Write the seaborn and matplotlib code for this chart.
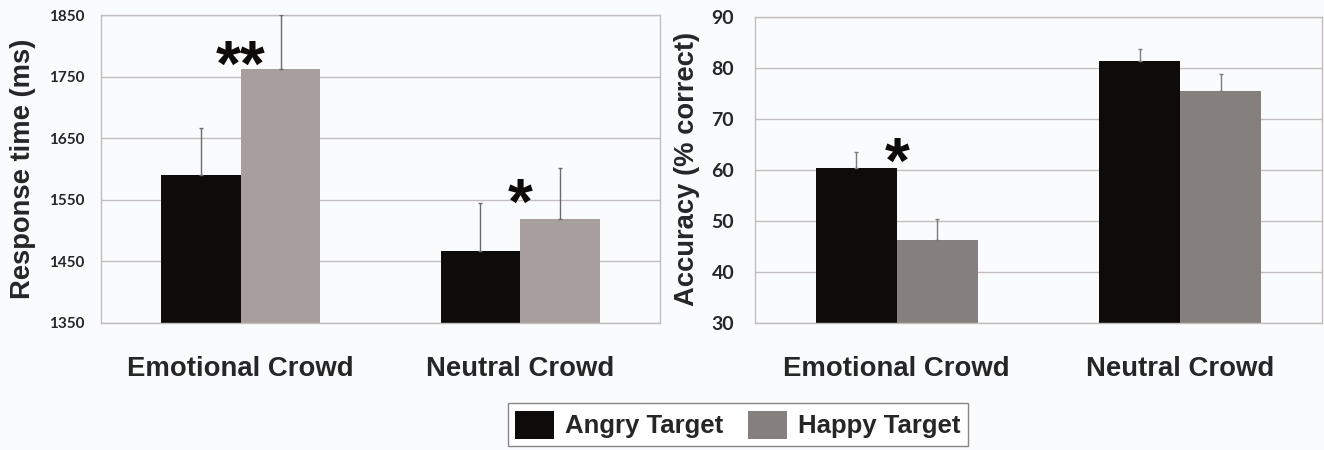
import pandas as pd
import numpy as np
import seaborn as sns
import matplotlib.pyplot as plt

# valores
crowds = ['Emotional Crowd', 'Neutral Crowd']
targets = ['Angry Target', 'Happy Target']

rt_angry = [1590, 1467]
rt_happy = [1763, 1519]
rt_angry_err = [77, 77]
rt_happy_err = [87, 83]

acc_angry = [60.4, 81.3]
acc_happy = [46.3, 75.4]
acc_angry_err = [3.1, 2.4]
acc_happy_err = [4.0, 3.4]

bg = '#fafbfd'
grid_c = '#c2bebd'
black = '#0e0c0b'
gray_left = '#a69f9e'
gray_right = '#85807e'

sns.set_style("white")
plt.rcParams['font.family'] = ['Liberation Sans', 'DejaVu Sans']

W, H = 1324, 450
fig = plt.figure(figsize=(W / 100, H / 100), dpi=100, facecolor=bg)
ax1 = fig.add_axes([101 / W, 1 - 323 / H, (660 - 101) / W, (323 - 15) / H])
ax2 = fig.add_axes([755 / W, 1 - 322.7 / H, (1322 - 755) / W, (322.7 - 16.7) / H])


def montar(angry, happy):
    return pd.DataFrame({
        'crowd': crowds * 2,
        'target': [targets[0]] * 2 + [targets[1]] * 2,
        'valor': list(angry) + list(happy),
    })


df_rt = montar(rt_angry, rt_happy)
df_acc = montar(acc_angry, acc_happy)

sns.barplot(data=df_rt, x='crowd', y='valor', hue='target', order=crowds,
            hue_order=targets, palette=[black, gray_left], width=0.57,
            linewidth=0, saturation=1, legend=False, ax=ax1)
sns.barplot(data=df_acc, x='crowd', y='valor', hue='target', order=crowds,
            hue_order=targets, palette=[black, gray_right], width=0.57,
            linewidth=0, saturation=1, legend=True, ax=ax2)

# barras de erro (só para cima)
def erros(ax, errs, cor):
    for p, e in zip(ax.patches, errs):
        x = p.get_x() + p.get_width() / 2
        y = p.get_height()
        ax.errorbar(x, y, yerr=[[0], [e]], fmt='none', ecolor=cor,
                    elinewidth=1, capsize=1.5, capthick=1, zorder=3)

erros(ax1, rt_angry_err + rt_happy_err, '#6e6a69')
erros(ax2, acc_angry_err + acc_happy_err, '#7e7a79')

ax1.set_ylim(1350, 1850)
ax1.set_yticks([1350, 1450, 1550, 1650, 1750, 1850])
ax2.set_ylim(30, 90)
ax2.set_yticks([30, 40, 50, 60, 70, 80, 90])

for ax in (ax1, ax2):
    ax.set_xlim(-0.5, 1.5)
    ax.set_facecolor(bg)
    ax.set_axisbelow(True)
    ax.yaxis.grid(True, color=grid_c, linewidth=1)
    for s in ax.spines.values():
        s.set_color(grid_c)
        s.set_linewidth(1)
    ax.set_xlabel('')
    ax.tick_params(axis='both', length=0)
    ax.tick_params(axis='x', pad=24, labelsize=19.8)
    for t in ax.get_xticklabels():
        t.set_fontweight('bold')

ax1.tick_params(axis='y', pad=12)
ax2.tick_params(axis='y', pad=15)
for t in ax1.get_yticklabels():
    t.set_fontfamily('Lato')
    t.set_fontweight('bold')
    t.set_fontsize(11)
for t in ax2.get_yticklabels():
    t.set_fontfamily('Lato')
    t.set_fontweight('bold')
    t.set_fontsize(14)

ax1.set_ylabel('Response time (ms)', fontsize=19.7, fontweight='bold')
ax2.set_ylabel('Accuracy (% correct)', fontsize=19.7, fontweight='bold')
ax1.yaxis.set_label_coords(36 / W, 1 - 169 / H, transform=fig.transFigure)
ax2.yaxis.set_label_coords(700 / W, 1 - 169 / H, transform=fig.transFigure)

# asteriscos de significância
ast = dict(ha='center', va='top', fontsize=46, fontweight='bold', color=black)
ax1.text(0, 1812, '**', **ast)
ax1.text(1.0, 1588, '*', **ast)
ax2.text(0, 66.6, '*', **ast)

handles, labels = ax2.get_legend_handles_labels()
ax2.get_legend().remove()
leg = fig.legend(handles, labels, loc='upper center', bbox_to_anchor=(738 / W, 1 - 403 / H),
                 ncol=2, frameon=True, fancybox=False, edgecolor='#8a8685',
                 facecolor='white', framealpha=1, prop={'weight': 'bold', 'size': 18.5},
                 handlelength=1.5, handleheight=1.3, handletextpad=0.45,
                 columnspacing=0.95, borderpad=0.3, borderaxespad=0)
leg.get_frame().set_linewidth(1)

plt.savefig('out.png', dpi=100, facecolor=bg)
